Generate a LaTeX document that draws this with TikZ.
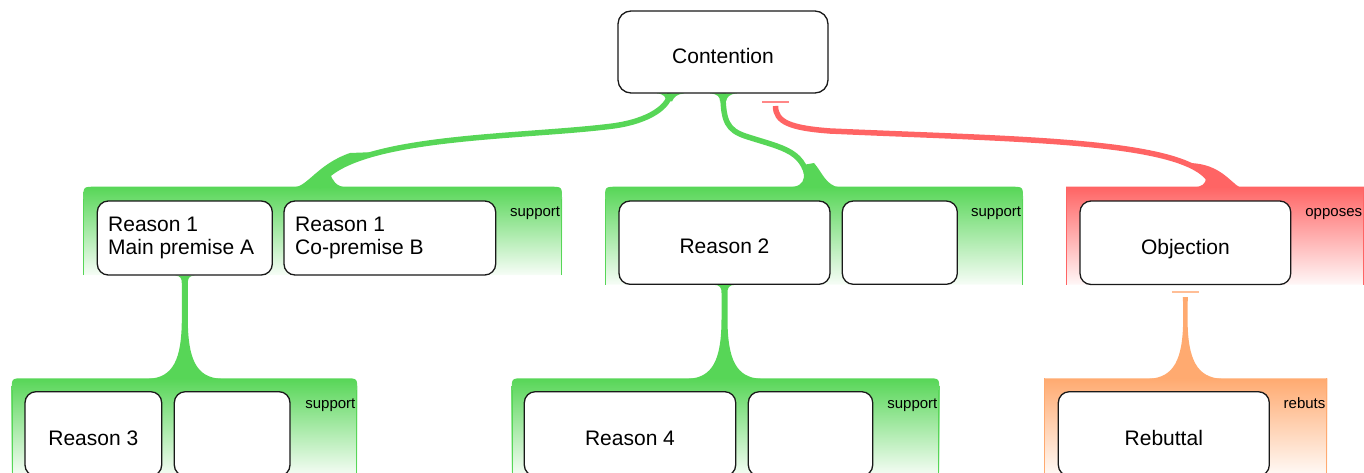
\documentclass[tikz,border=0pt]{standalone}
\usepackage{fontspec}
\setmainfont{Liberation Sans}
\usetikzlibrary{calc}
\definecolor{grn}{RGB}{87,214,87}
\definecolor{rd}{RGB}{255,100,100}
\definecolor{org}{RGB}{255,170,112}
\definecolor{rdbar}{RGB}{255,135,135}
\definecolor{orgbar}{RGB}{255,190,150}
\definecolor{bord}{RGB}{25,25,25}
\pgfdeclarelayer{bg}
\pgfsetlayers{bg,main}
\tikzset{
  box/.style={draw=bord, line width=1.3pt, fill=white, rounded corners=11pt, inner sep=0pt, outer sep=0pt, anchor=north west},
  grp/.style={inner sep=0pt, outer sep=0pt, anchor=north west},
  txt/.style={font=\fontsize{21}{23.5}\selectfont, inner sep=0pt, anchor=base},
  tag/.style={font=\fontsize{15}{17}\selectfont, inner sep=0pt, anchor=base east},
  flow/.style={line width=5.5pt},
  bar/.style={line width=2pt},
}
\newcommand{\grpshade}[3]{%
  \shade[top color=#2, bottom color=#2!5] (#1.south west) -- ($(#1.north west)+(0,#3)$) .. controls (#1.north west) .. ($(#1.north west)+(#3,0)$) -- ($(#1.north east)+(-#3,0)$) .. controls (#1.north east) .. ($(#1.north east)+(0,#3)$) -- (#1.south east) -- cycle;
  \draw[#2, line width=1pt] ($(#1.south west)+(0.5,0)$) -- ($(#1.north west)+(0.5,#3)$);
  \draw[#2, line width=1pt] ($(#1.south east)+(-0.5,0)$) -- ($(#1.north east)+(-0.5,#3)$);
}
\newcommand{\stemflare}[5]{%
  \fill[#1] ($(#2)+(-#4,0)$) .. controls ($(#2)+(-#5-1,0)$) and ($(#2)+(-#5,3)$) .. ($(#2)+(-#5,8)$)
    -- ($(#3)+(-#5,-60)$) .. controls ($(#3)+(-#5,-18)$) and ($(#3)+(-12,-1)$) .. ($(#3)+(-36,0.5)$)
    -- ($(#3)+(36,0.5)$) .. controls ($(#3)+(12,-1)$) and ($(#3)+(#5,-18)$) .. ($(#3)+(#5,-60)$)
    -- ($(#2)+(#5,8)$) .. controls ($(#2)+(#5,3)$) and ($(#2)+(#5+1,0)$) .. ($(#2)+(#4,0)$) -- cycle;
}
\begin{document}
\begin{tikzpicture}[x=1pt,y=-1pt]
\useasboundingbox (0,0) rectangle (1364,473);

% group areas
\node[grp, minimum width=478.7pt, minimum height=88.3pt] (g1) at (83.3,186.7) {};
\node[grp, minimum width=418pt, minimum height=97.8pt] (g2) at (605,186.7) {};
\node[grp, minimum width=298pt, minimum height=97.8pt] (g3) at (1066,186.7) {};
\node[grp, minimum width=345.6pt, minimum height=97.7pt] (g4) at (11.7,378.3) {};
\node[grp, minimum width=427.6pt, minimum height=97.7pt] (g5) at (511.7,378.3) {};
\node[grp, minimum width=283.3pt, minimum height=97.7pt] (g6) at (1044,378.3) {};

% boxes
\node[box, rounded corners=13pt, minimum width=210pt, minimum height=82pt] (cont) at (618,11) {};
\node[box, minimum width=175pt, minimum height=74pt] (r1a) at (97.3,201) {};
\node[box, minimum width=211.7pt, minimum height=74pt] (r1b) at (284,201) {};
\node[box, minimum width=211pt, minimum height=83.3pt] (r2) at (619,201) {};
\node[box, minimum width=115pt, minimum height=83.3pt] (r2e) at (842.3,201) {};
\node[box, minimum width=210.7pt, minimum height=83.5pt] (obj) at (1080,201) {};
\node[box, minimum width=136.7pt, minimum height=84.3pt] (r3) at (25,391.7) {};
\node[box, minimum width=115.7pt, minimum height=84.3pt] (r3e) at (174.3,391.7) {};
\node[box, minimum width=211.4pt, minimum height=84.3pt] (r4) at (524.3,391.7) {};
\node[box, minimum width=124.4pt, minimum height=84.3pt] (r4e) at (748.3,391.7) {};
\node[box, minimum width=211pt, minimum height=84.3pt] (reb) at (1058.3,391.7) {};

% texts
\node[txt] (tcont) at ($(cont.center)+(0,12)$) {Contention};
\node[txt, align=left, anchor=north west] (t1a) at ($(r1a.north west)+(10.7,15.7)$) {Reason 1\\Main premise A};
\node[txt, align=left, anchor=north west] (t1b) at ($(r1b.north west)+(11,15.7)$) {Reason 1\\Co-premise B};
\node[txt] (t2) at ($(r2.center)+(0,11.3)$) {Reason 2};
\node[txt] (tobj) at ($(obj.center)+(0,11.3)$) {Objection};
\node[txt] (t3) at ($(r3.center)+(0,11.2)$) {Reason 3};
\node[txt] (t4) at ($(r4.center)+(0,11.2)$) {Reason 4};
\node[txt] (treb) at ($(reb.center)+(0,11.2)$) {Rebuttal};

\node[tag] (s1) at ($(g1.north east)+(-1.7,30)$) {support};
\node[tag] (s2) at ($(g2.north east)+(-1.7,30)$) {support};
\node[tag] (s3) at ($(g3.north east)+(-1.7,30)$) {opposes};
\node[tag] (s4) at ($(g4.north east)+(-1.7,30)$) {support};
\node[tag] (s5) at ($(g5.north east)+(-1.7,30)$) {support};
\node[tag] (s6) at ($(g6.north east)+(-1.7,30)$) {rebuts};

% connector end points
\coordinate (c1s) at ($(cont.south)+(-53,0.5)$);
\coordinate (c1t) at (318,187);
\coordinate (c2s) at ($(cont.south)+(0,0.5)$);
\coordinate (c2t) at (809,187);
\coordinate (c3bar) at ($(cont.south)+(52.5,9)$);
\coordinate (c3s) at ($(cont.south)+(52.5,13)$);
\coordinate (c3t) at (1213,187);
\coordinate (c4s) at ($(r1a.south)+(0,0.6)$);
\coordinate (c4t) at (r1a.south |- g4.north);
\coordinate (c5s) at ($(r2.south)+(0,0.6)$);
\coordinate (c5t) at (r2.south |- g5.north);
\coordinate (c6bar) at ($(obj.south)+(0,7.8)$);
\coordinate (c6s) at ($(obj.south)+(0,12.5)$);
\coordinate (c6t) at (obj.south |- g6.north);

\begin{pgfonlayer}{bg}
\grpshade{g1}{grn}{12}
\grpshade{g2}{grn}{12}
\grpshade{g3}{rd}{0}
\grpshade{g4}{grn}{12}
\grpshade{g5}{grn}{12}
\grpshade{g6}{org}{0}

% Contention <- Reason 1 group
\draw[flow, grn] (c1s) .. controls (669,106) and (650,121) .. (613,126) .. controls (520,138) and (345,135) .. (c1t);
\fill[grn] ($(c1s)+(-13,0)$) .. controls ($(c1s)+(-6,0.5)$) and ($(c1s)+(-4,3.5)$) .. ($(c1s)+(-4,8)$) -- ($(c1s)+(2,8)$) .. controls ($(c1s)+(4,3.5)$) and ($(c1s)+(7,0.5)$) .. ($(c1s)+(14,0)$) -- cycle;
\fill[grn] ($(c1t)+(-24,0.5)$) .. controls ($(c1t)+(-10,-1)$) and ($(c1t)+(0,-23)$) .. ($(c1t)+(32,-34)$) -- ($(c1t)+(58,-35)$) -- ($(c1t)+(12,-14)$) .. controls ($(c1t)+(14,-7)$) and ($(c1t)+(18,0)$) .. ($(c1t)+(29,0.5)$) -- cycle;

% Contention <- Reason 2 group
\draw[flow, grn] (c2s) .. controls (723,122) and (728,130) .. (745,136) .. controls (785,149) and (806,150) .. (c2t);
\fill[grn] ($(c2s)+(-13,0)$) .. controls ($(c2s)+(-5,0.5)$) and ($(c2s)+(-3,3.5)$) .. ($(c2s)+(-3,8)$) -- ($(c2s)+(3,8)$) .. controls ($(c2s)+(4,3.5)$) and ($(c2s)+(6,0.5)$) .. ($(c2s)+(14,0)$) -- cycle;
\fill[grn] ($(c2t)+(-21,0.5)$) .. controls ($(c2t)+(-11,0)$) and ($(c2t)+(-6,-3)$) .. ($(c2t)+(-5,-10)$) -- ($(c2t)+(-6,-22)$) -- ($(c2t)+(5,-24)$) .. controls ($(c2t)+(13,-15)$) and ($(c2t)+(17,-1)$) .. ($(c2t)+(31,0.5)$) -- cycle;

% Contention <- Objection group
\draw[bar, rdbar] ($(c3bar)+(-13.5,0)$) -- ($(c3bar)+(13.5,0)$);
\draw[flow, rd] (c3s) .. controls (775.5,122) and (790,128) .. (830,131) .. controls (1030,140) and (1200,140) .. (c3t);
\fill[rd] ($(c3t)+(-19,0.5)$) .. controls ($(c3t)+(-12,0)$) and ($(c3t)+(-7,-3)$) .. ($(c3t)+(-7,-9)$) -- ($(c3t)+(-23,-24)$) .. controls ($(c3t)+(7,-23)$) and ($(c3t)+(17,-5)$) .. ($(c3t)+(27,0.5)$) -- cycle;

% vertical links
\stemflare{grn}{c4s}{c4t}{10}{3}
\stemflare{grn}{c5s}{c5t}{11}{3}
\draw[bar, orgbar] ($(c6bar)+(-13.5,0)$) -- ($(c6bar)+(13.5,0)$);
\stemflare{org}{c6s}{c6t}{2.2}{2.2}
\end{pgfonlayer}
\end{tikzpicture}
\end{document}
